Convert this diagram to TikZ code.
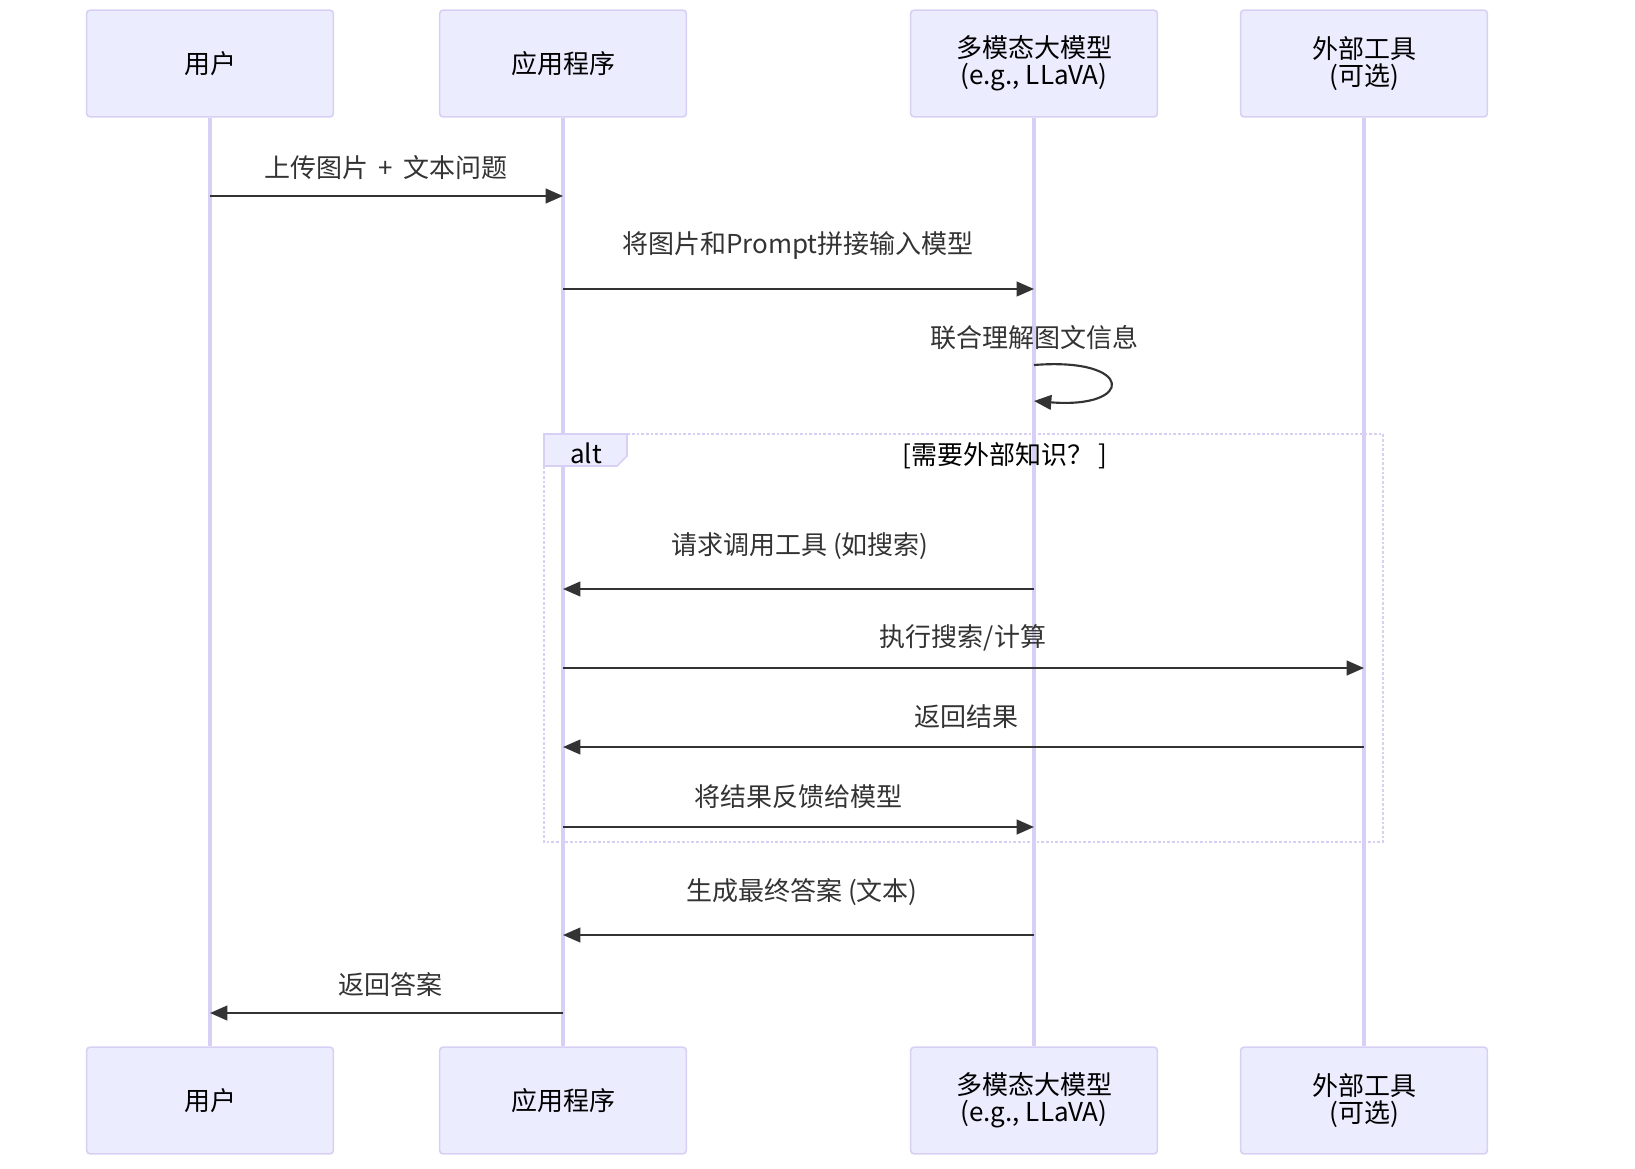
\documentclass[tikz,border=0pt]{standalone}
\usepackage{fontspec}
\setmainfont{Noto Sans CJK SC}
\usetikzlibrary{arrows.meta}

\definecolor{actfill}{HTML}{ECECFF}
\definecolor{actline}{HTML}{D8CFF5}
\definecolor{msgcol}{HTML}{333333}

\tikzset{
	actor/.style={draw=actline, fill=actfill, line width=1.2pt, rounded corners=2.5pt,
		minimum width=185pt, minimum height=80pt, align=center, text=black,
		font=\fontsize{19.5}{20}\selectfont},
	life/.style={draw=actline, line width=2.4pt},
	msg/.style={draw=msgcol, line width=1.6pt, -{Triangle[length=13pt,width=11pt]}},
	lbl/.style={text=msgcol, font=\fontsize{19.5}{22}\selectfont},
	altbox/.style={draw=actline, line width=2pt, dash pattern=on 2pt off 1.5pt},
}

\begin{document}
\begin{tikzpicture}[x=0.75pt, y=-0.75pt]
			\useasboundingbox (0,0) rectangle (1635,1168);
			% actors
			\node[actor] (user) at (210,63.5) {用户};
			\node[actor] (app) at (563,63.5) {应用程序};
			\node[actor] (llm) at (1034,63.5) {多模态大模型\\(e.g., LLaVA)};
			\node[actor] (tool) at (1364,63.5) {外部工具\\(可选)};
			\node[actor] (user') at (210,1100.5) {用户};
			\node[actor] (app') at (563,1100.5) {应用程序};
			\node[actor] (llm') at (1034,1100.5) {多模态大模型\\(e.g., LLaVA)};
			\node[actor] (tool') at (1364,1100.5) {外部工具\\(可选)};
			\draw[life] (user.south) -- (user'.north);
			\draw[life] (app.south) -- (app'.north);
			\draw[life] (llm.south) -- (llm'.north);
			\draw[life] (tool.south) -- (tool'.north);

			% alt frame
			\draw[altbox] (544,434) rectangle (1383,842);
			\draw[draw=actline, fill=actfill, line width=1.2pt] (544,434) -- (627,434) -- (627,456) -- (617,466) -- (544,466) -- cycle;
			\node[text=black, font=\fontsize{19.5}{22}\selectfont] (alt) at (586,453) {alt};
			\node[text=black, font=\fontsize{19.5}{22}\selectfont] (cond) at (1005,456) {[需要外部知识？ ]};

			% rows
			\coordinate (r1) at (0,196);
			\coordinate (r2) at (0,289);
			\coordinate (s1) at (0,365);
			\coordinate (s2) at (0,401);
			\coordinate (r3) at (0,589);
			\coordinate (r4) at (0,668);
			\coordinate (r5) at (0,747);
			\coordinate (r6) at (0,827);
			\coordinate (r7) at (0,935);
			\coordinate (r8) at (0,1013);

			% messages
			\node[lbl] (m1) at (386,168) {上传图片 \,+\, 文本问题};
			\draw[msg] (user |- r1) -- (app |- r1);
			\node[lbl] (m2) at (798,246) {将图片和Prompt拼接输入模型};
			\draw[msg] (app |- r2) -- (llm |- r2);
			\node[lbl] (self) at (1034,338) {联合理解图文信息};
			\draw[msg] (llm |- s1) .. controls +(101,-8) and +(101,8) .. (llm |- s2);
			\node[lbl] (m3) at (800,546) {请求调用工具 (如搜索)};
			\draw[msg] (llm |- r3) -- (app |- r3);
			\node[lbl] (m4) at (963,638) {执行搜索/计算};
			\draw[msg] (app |- r4) -- (tool |- r4);
			\node[lbl] (m5) at (966,717) {返回结果};
			\draw[msg] (tool |- r5) -- (app |- r5);
			\node[lbl] (m6) at (798,797) {将结果反馈给模型};
			\draw[msg] (app |- r6) -- (llm |- r6);
			\node[lbl] (m7) at (802,892) {生成最终答案 (文本)};
			\draw[msg] (llm |- r7) -- (app |- r7);
			\node[lbl] (m8) at (390,985) {返回答案};
			\draw[msg] (app |- r8) -- (user |- r8);
		\end{tikzpicture}
\end{document}
